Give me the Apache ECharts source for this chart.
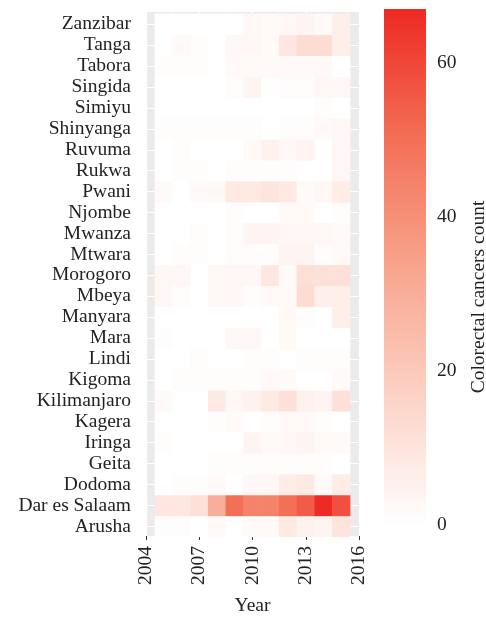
<!DOCTYPE html>
<html>
<head>
<meta charset="utf-8">
<script src="https://cdn.jsdelivr.net/npm/echarts@6/dist/echarts.min.js"></script>
<style>
  html, body { margin: 0; padding: 0; background: #fff; }
  #chart { width: 486px; height: 621px; }
</style>
</head>
<body>
<div id="chart"></div>
<script>
// regions, bottom to top as drawn
const regions = ['Arusha', 'Dar es Salaam', 'Dodoma', 'Geita', 'Iringa', 'Kagera', 'Kilimanjaro',
  'Kigoma', 'Lindi', 'Mara', 'Manyara', 'Mbeya', 'Morogoro', 'Mtwara', 'Mwanza', 'Njombe',
  'Pwani', 'Rukwa', 'Ruvuma', 'Shinyanga', 'Simiyu', 'Singida', 'Tabora', 'Tanga', 'Zanzibar'];
const tileYears = ['2005', '2006', '2007', '2008', '2009', '2010', '2011', '2012', '2013', '2014', '2015'];
const axisYears = ['2004', '2005', '2006', '2007', '2008', '2009', '2010', '2011', '2012', '2013', '2014', '2015', '2016'];
const yearTicks = [2004, 2007, 2010, 2013, 2016];
const legendTicks = [0, 20, 40, 60];

// counts per region, 2005..2015
const arusha      = [1, 1, 0, 2, 0, 2, 2, 8, 5, 4, 10];
const darEsSalaam = [9, 9, 11, 30, 50, 44, 44, 50, 55, 67, 58];
const dodoma      = [0, 1, 1, 2, 0, 3, 3, 7, 8, 2, 7];
const geita       = [0, 0, 0, 1, 1, 1, 1, 1, 1, 1, 0];
const iringa      = [1, 0, 0, 0, 0, 4, 2, 3, 4, 2, 2];
const kagera      = [0, 0, 0, 1, 2, 0, 1, 2, 2, 1, 0];
const kilimanjaro = [2, 0, 0, 8, 3, 5, 8, 11, 5, 4, 11];
const kigoma      = [0, 1, 1, 1, 1, 1, 2, 2, 0, 0, 2];
const lindi       = [0, 0, 1, 0, 0, 1, 1, 0, 1, 1, 1];
const mara        = [1, 0, 0, 0, 3, 3, 0, 2, 0, 0, 0];
const manyara     = [0, 0, 0, 0, 0, 0, 0, 2, 1, 0, 6];
const mbeya       = [3, 1, 0, 3, 3, 1, 2, 2, 13, 6, 6];
const morogoro    = [3, 3, 0, 3, 3, 3, 9, 2, 12, 11, 11];
const mtwara      = [0, 1, 1, 0, 1, 1, 1, 4, 4, 1, 2];
const mwanza      = [0, 0, 1, 0, 1, 4, 4, 3, 3, 3, 2];
const njombe      = [0, 0, 0, 0, 1, 0, 0, 2, 2, 0, 1];
const pwani       = [2, 0, 2, 2, 8, 8, 10, 8, 2, 3, 7];
const rukwa       = [0, 1, 1, 0, 1, 1, 1, 1, 0, 0, 3];
const ruvuma      = [0, 1, 0, 0, 0, 2, 5, 3, 4, 0, 3];
const shinyanga   = [1, 1, 1, 1, 1, 1, 0, 1, 1, 2, 3];
const simiyu      = [0, 0, 0, 0, 0, 0, 0, 0, 0, 1, 0];
const singida     = [0, 0, 0, 0, 1, 4, 0, 1, 1, 3, 3];
const tabora      = [1, 1, 1, 0, 2, 2, 2, 2, 2, 2, 0];
const tanga       = [0, 2, 1, 0, 3, 3, 2, 9, 13, 13, 6];
const zanzibar    = [0, 0, 0, 0, 0, 3, 2, 3, 4, 2, 6];

const counts = [arusha, darEsSalaam, dodoma, geita, iringa, kagera, kilimanjaro, kigoma, lindi,
  mara, manyara, mbeya, morogoro, mtwara, mwanza, njombe, pwani, rukwa, ruvuma, shinyanga,
  simiyu, singida, tabora, tanga, zanzibar];

const ramp = ['#FFFFFF', '#FCD2C5', '#F8A48D', '#F36F56', '#EE2A24'];
const font = '"Liberation Serif", "DejaVu Serif", serif';
const textColor = '#222';

const data = [];
counts.forEach((row, r) => {
  row.forEach((v, c) => data.push([tileYears[c], regions[r], v]));
});
const maxCount = Math.max(...data.map(d => d[2]));

const chart = echarts.init(document.getElementById('chart'));
chart.setOption({
  animation: false,
  grid: [
    // grey panel
    { left: 146, top: 12, width: 213, height: 527, show: true, backgroundColor: '#EBEBEB', borderWidth: 0 },
    // tiles
    { left: 146, top: 13.85, width: 213, height: 523 },
    // white lines at row centres
    { left: 146, top: 24.3, width: 213, height: 502 },
    // colour bar
    { left: 384, top: 9, width: 42, height: 516 }
  ],
  visualMap: {
    show: false, type: 'continuous', min: 0, max: maxCount, seriesIndex: 0,
    inRange: { color: ramp }
  },
  xAxis: [
    {
      gridIndex: 0, type: 'value', min: 2004, max: 2016, interval: 3,
      axisLine: { show: false },
      axisTick: { length: 4, lineStyle: { color: '#333' } },
      axisLabel: { rotate: 90, margin: 10, fontSize: 19.5, fontFamily: font, color: textColor,
        formatter: v => String(v) },
      splitLine: { lineStyle: { color: '#fff', width: 1.2 } },
      minorTick: { show: false, splitNumber: 2 },
      minorSplitLine: { show: true, lineStyle: { color: '#fff', width: 0.6 } },
      name: 'Year', nameLocation: 'middle', nameGap: 60,
      nameTextStyle: { fontSize: 19.5, fontFamily: font, color: textColor }
    },
    { gridIndex: 1, type: 'category', data: axisYears, boundaryGap: false, show: false },
    { gridIndex: 2, type: 'value', min: 2004, max: 2016, show: false },
    { gridIndex: 3, type: 'category', data: ['bar'], show: false }
  ],
  yAxis: [
    { gridIndex: 0, type: 'value', min: 0, max: 1, show: false },
    {
      gridIndex: 1, type: 'category', data: regions, boundaryGap: true,
      axisLine: { show: false },
      axisTick: { alignWithLabel: true, length: 4, lineStyle: { color: '#333' } },
      axisLabel: { interval: 0, margin: 15, fontSize: 19.5, fontFamily: font, color: textColor },
      splitLine: { show: false }
    },
    {
      gridIndex: 2, type: 'category', data: regions, boundaryGap: false,
      axisLine: { show: false }, axisTick: { show: false }, axisLabel: { show: false },
      splitLine: { show: true, interval: 0, lineStyle: { color: '#fff', width: 1.2 } }
    },
    {
      gridIndex: 3, type: 'value', min: 0, max: maxCount, position: 'right',
      axisLine: { show: false },
      axisTick: { inside: true, length: 8, customValues: legendTicks, lineStyle: { color: '#fff', width: 1 } },
      axisLabel: { customValues: legendTicks, margin: 11, fontSize: 19.5, fontFamily: font, color: textColor },
      splitLine: { show: false }
    },
    {
      gridIndex: 3, type: 'value', min: 0, max: maxCount, position: 'left',
      axisLine: { show: false },
      axisTick: { inside: true, length: 8, customValues: legendTicks, lineStyle: { color: '#fff', width: 1 } },
      axisLabel: { show: false },
      splitLine: { show: false }
    }
  ],
  series: [
    {
      type: 'heatmap', xAxisIndex: 1, yAxisIndex: 1, data: data,
      itemStyle: { borderWidth: 0 },
      emphasis: { disabled: true }
    },
    {
      type: 'bar', xAxisIndex: 3, yAxisIndex: 3, data: [maxCount], barWidth: '100%',
      silent: true,
      itemStyle: {
        color: new echarts.graphic.LinearGradient(0, 1, 0, 0,
          ramp.map((c, i) => ({ offset: i / (ramp.length - 1), color: c })))
      }
    }
  ],
  graphic: [
    {
      type: 'text', x: 479, y: 297, rotation: Math.PI / 2,
      style: { text: 'Colorectal cancers count', fill: textColor, fontSize: 19.5, fontFamily: font,
        align: 'center', verticalAlign: 'middle' }
    }
  ]
});
</script>
</body>
</html>
